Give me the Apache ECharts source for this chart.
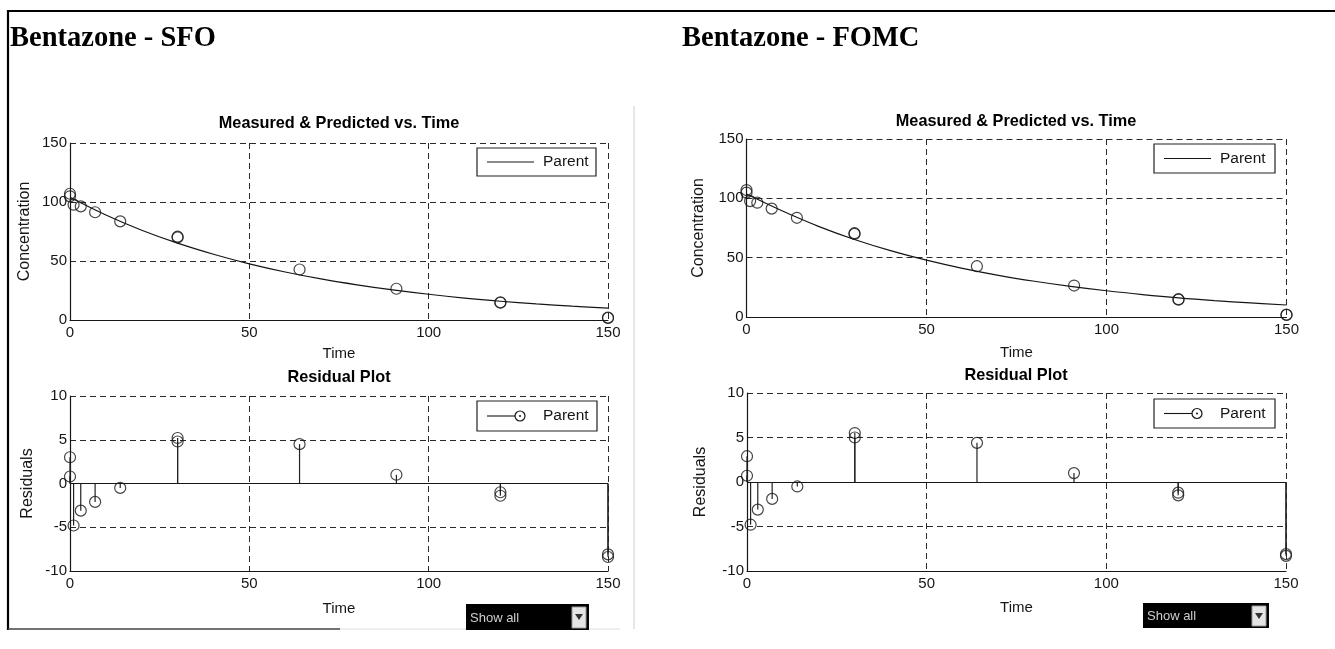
<!DOCTYPE html>
<html>
<head>
<meta charset="utf-8">
<title>Bentazone - SFO / FOMC</title>
<script src="https://cdn.jsdelivr.net/npm/echarts@6/dist/echarts.min.js"></script>
<style>
  html, body { margin: 0; padding: 0; background: #fff; }
  #chart { width: 1335px; height: 649px; }
</style>
</head>
<body>
<div id="chart"></div>
<script>
// Sampling times (days) of the measured parent residues (replicates share a time)
const sampleTimes = [0, 0, 1, 3, 7, 14, 30, 30, 64, 91, 120, 120, 150, 150];
// Measured parent concentration
const measured = [107.0, 104.8, 97.7, 96.3, 91.3, 83.6, 70.6, 70.0, 42.8, 26.5, 15.0, 14.6, 2.0, 1.7];
// Residuals of the SFO and FOMC fits
const residSFO  = [3.0, 0.8, -4.8, -3.1, -2.1, -0.5, 5.2, 4.8, 4.5, 1.0, -1.0, -1.4, -8.1, -8.4];
const residFOMC = [2.9, 0.7, -4.8, -3.1, -1.9, -0.5, 5.5, 5.0, 4.4, 1.0, -1.2, -1.5, -8.1, -8.3];
// Fitted curves
const curveTimes = [0, 10, 20, 30, 40, 50, 60, 70, 80, 90, 100, 110, 120, 130, 140, 150];
const fitSFO  = [104.0, 89.0, 76.1, 65.1, 55.7, 47.6, 40.7, 34.8, 29.8, 25.5, 21.8, 18.6, 15.9, 13.6, 11.7, 10.0];
const fitFOMC = [103.6, 89.3, 76.4, 65.3, 55.9, 47.9, 41.0, 35.1, 30.1, 25.8, 22.1, 18.9, 16.1, 13.8, 11.9, 10.1];
// Axis ticks
const timeTicks  = [0, 50, 100, 150];
const concTicks  = [0, 50, 100, 150];
const residTicks = [-10, -5, 0, 5, 10];

const SANS = 'Liberation Sans, Arial, sans-serif';
const SERIF = 'Liberation Serif, Times New Roman, serif';
const INK = '#161616';

const pair = (xs, ys) => xs.map((x, i) => [x, ys[i]]);

function xAxisFor(gridIndex, gap) {
  return {
    type: 'value', gridIndex,
    min: timeTicks[0], max: timeTicks[timeTicks.length - 1],
    interval: timeTicks[1] - timeTicks[0],
    name: 'Time', nameLocation: 'middle', nameGap: gap,
    nameTextStyle: { fontFamily: SANS, fontSize: 15, color: INK },
    axisLine: { show: true, onZero: false, lineStyle: { color: INK, width: 1.2 } },
    axisTick: { show: false },
    axisLabel: { fontFamily: SANS, fontSize: 15, color: INK, margin: 5, showMaxLabel: true, showMinLabel: true },
    splitLine: { show: true, lineStyle: { color: '#2a2a2a', width: 1, type: [6, 4] } }
  };
}

function yAxisFor(gridIndex, ticks, name, gap) {
  return {
    type: 'value', gridIndex,
    min: ticks[0], max: ticks[ticks.length - 1],
    interval: ticks[1] - ticks[0],
    name, nameLocation: 'middle', nameGap: gap,
    nameTextStyle: { fontFamily: SANS, fontSize: 16, color: INK },
    axisLine: { show: true, onZero: false, lineStyle: { color: INK, width: 1.2 } },
    axisTick: { show: false },
    axisLabel: { fontFamily: SANS, fontSize: 15, color: INK, margin: 3, showMaxLabel: true, showMinLabel: true },
    splitLine: { show: true, lineStyle: { color: '#2a2a2a', width: 1, type: [6, 4] } }
  };
}

const circleStyle = { color: 'rgba(0,0,0,0)', borderColor: INK, borderWidth: 1.2 };

function fitPanel(idx, fit) {
  return [
    {
      type: 'line', name: 'Parent', xAxisIndex: idx, yAxisIndex: idx,
      data: pair(curveTimes, fit), smooth: 0.4, showSymbol: false, symbol: 'none',
      lineStyle: { color: INK, width: 1.2 }, silent: true, z: 3
    },
    {
      type: 'scatter', name: 'Measured', xAxisIndex: idx, yAxisIndex: idx,
      data: pair(sampleTimes, measured), symbol: 'circle', symbolSize: 11,
      itemStyle: circleStyle, silent: true, z: 4
    }
  ];
}

function residPanel(idx, resid) {
  return [
    {
      type: 'bar', name: 'Stem', xAxisIndex: idx, yAxisIndex: idx,
      data: pair(sampleTimes, resid), barWidth: 1.2, barGap: '-100%',
      itemStyle: { color: '#222' }, silent: true, z: 3,
      markLine: {
        silent: true, symbol: ['none', 'none'], label: { show: false },
        lineStyle: { color: INK, type: 'solid', width: 1.2 },
        data: [{ yAxis: 0 }], animation: false
      }
    },
    {
      type: 'scatter', name: 'Parent', xAxisIndex: idx, yAxisIndex: idx,
      data: pair(sampleTimes, resid), symbol: 'circle', symbolSize: 11,
      itemStyle: circleStyle, silent: true, z: 4
    }
  ];
}

// Legend box, plot titles, page frame and the "Show all" selector are drawn as graphics
function legendBox(x, y, w, h, lineEnd, withMarker) {
  const cy = y + h / 2;
  const children = [
    { type: 'rect', shape: { x, y, width: w, height: h }, style: { fill: '#fff', stroke: '#222', lineWidth: 1.2 } },
    { type: 'line', shape: { x1: x + 10, y1: cy, x2: x + lineEnd, y2: cy }, style: { stroke: INK, lineWidth: 1.1 } },
    { type: 'text', x: x + 66, y: cy, style: { text: 'Parent', font: '15.5px ' + SANS, fill: INK, textVerticalAlign: 'middle' } }
  ];
  if (withMarker) {
    children.push({ type: 'circle', shape: { cx: x + lineEnd + 4, cy, r: 5 }, style: { fill: '#fff', stroke: INK, lineWidth: 1.2 } });
    children.push({ type: 'circle', shape: { cx: x + lineEnd + 4, cy, r: 1 }, style: { fill: INK } });
  }
  return { type: 'group', z: 50, children };
}

function panelTitle(text, x, y) {
  return { type: 'text', x, y, z: 50, style: { text, font: 'bold 16.3px ' + SANS, fill: '#000', textAlign: 'center', textVerticalAlign: 'middle' } };
}

function showAll(x, y, w, h) {
  return {
    type: 'group', z: 50,
    children: [
      { type: 'rect', shape: { x, y, width: w, height: h }, style: { fill: '#000' } },
      { type: 'text', x: x + 4, y: y + h / 2 + 1, style: { text: 'Show all', font: '13px ' + SANS, fill: '#cfcfcf', textVerticalAlign: 'middle' } },
      { type: 'rect', shape: { x: x + w - 17, y: y + 3, width: 14, height: h - 5 }, style: { fill: '#e4e4e4', stroke: '#999', lineWidth: 1 } },
      { type: 'polygon', shape: { points: [[x + w - 14, y + 10], [x + w - 6, y + 10], [x + w - 10, y + 16]] }, style: { fill: '#333' } }
    ]
  };
}

const graphics = [
  // page frame
  { type: 'line', shape: { x1: 8, y1: 11, x2: 1335, y2: 11 }, style: { stroke: '#000', lineWidth: 2.2 } },
  { type: 'line', shape: { x1: 8, y1: 10, x2: 8, y2: 630 }, style: { stroke: '#000', lineWidth: 2.2 } },
  { type: 'line', shape: { x1: 8, y1: 629, x2: 340, y2: 629 }, style: { stroke: '#444', lineWidth: 1.5 } },
  { type: 'line', shape: { x1: 340, y1: 629, x2: 620, y2: 629 }, style: { stroke: '#ddd', lineWidth: 1 } },
  { type: 'line', shape: { x1: 634, y1: 106, x2: 634, y2: 629 }, style: { stroke: '#cfcfcf', lineWidth: 1 } },
  // section headings
  { type: 'text', x: 10, y: 39, style: { text: 'Bentazone - SFO', font: 'bold 28.5px ' + SERIF, fill: '#000', textVerticalAlign: 'middle' } },
  { type: 'text', x: 682, y: 39, style: { text: 'Bentazone - FOMC', font: 'bold 28.5px ' + SERIF, fill: '#000', textVerticalAlign: 'middle' } },
  panelTitle('Measured & Predicted vs. Time', 339, 124),
  panelTitle('Residual Plot', 339, 378),
  panelTitle('Measured & Predicted vs. Time', 1016, 122),
  panelTitle('Residual Plot', 1016, 376),
  legendBox(477, 148, 119, 28, 57, false),
  legendBox(477, 401, 120, 30, 39, true),
  legendBox(1154, 144, 121, 29, 57, false),
  legendBox(1154, 399, 121, 29, 39, true),
  showAll(466, 604, 123, 26),
  showAll(1143, 603, 126, 25)
];

const chart = echarts.init(document.getElementById('chart'), null, { renderer: 'canvas' });
chart.setOption({
  animation: false,
  backgroundColor: '#fff',
  grid: [
    { left: 70, top: 143, width: 538, height: 177 },
    { left: 70, top: 396, width: 538, height: 175 },
    { left: 746.5, top: 139, width: 540, height: 178 },
    { left: 747, top: 393, width: 539, height: 178 }
  ],
  xAxis: [xAxisFor(0, 26), xAxisFor(1, 30), xAxisFor(2, 28), xAxisFor(3, 29)],
  yAxis: [
    yAxisFor(0, concTicks, 'Concentration', 37),
    yAxisFor(1, residTicks, 'Residuals', 34),
    yAxisFor(2, concTicks, 'Concentration', 40),
    yAxisFor(3, residTicks, 'Residuals', 38)
  ],
  series: [
    ...fitPanel(0, fitSFO),
    ...residPanel(1, residSFO),
    ...fitPanel(2, fitFOMC),
    ...residPanel(3, residFOMC)
  ],
  graphic: graphics
});
</script>
</body>
</html>
